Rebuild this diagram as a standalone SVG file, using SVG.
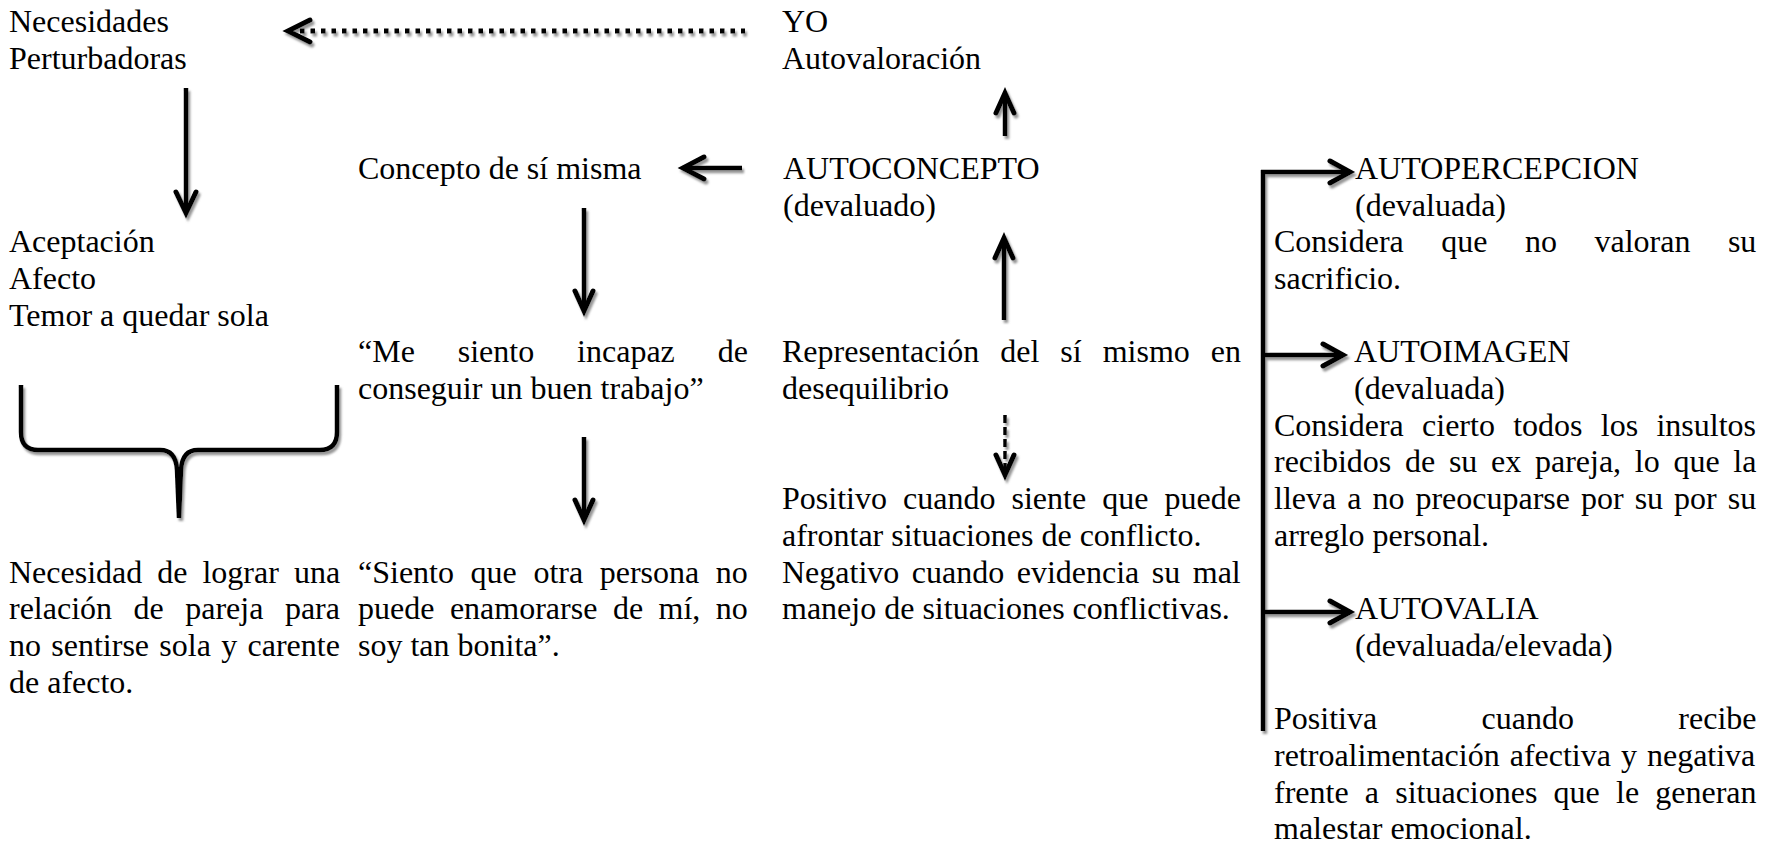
<svg xmlns="http://www.w3.org/2000/svg" width="1777" height="844" viewBox="0 0 1777 844">
<defs>
<style>
text{font-family:"Liberation Serif","Times New Roman",serif;font-size:32px;fill:#000}
.ln{fill:none;stroke:#000;stroke-width:4.5;stroke-linecap:butt}
.hd{fill:none;stroke:#000;stroke-width:5;stroke-linejoin:miter;stroke-linecap:round}
.dot{fill:none;stroke:#000;stroke-width:5;stroke-dasharray:4.5 6}
.dash{fill:none;stroke:#000;stroke-width:3.5;stroke-dasharray:8 4}
</style>
<filter id="sh" x="-20%" y="-20%" width="140%" height="140%">
<feDropShadow dx="2" dy="3" stdDeviation="1" flood-color="#8a8a8a" flood-opacity="0.9"/>
</filter>
</defs>
<rect width="1777" height="844" fill="#fff"/>

<g id="connectors" filter="url(#sh)">
<!-- YO -> Necesidades dotted -->
<path class="dot" d="M300,31 H745"/>
<path class="hd" d="M310,20 L288,31 L310,42"/>
<!-- Necesidades down -->
<path class="ln" d="M186,88 V212"/>
<path class="hd" d="M176,192 L186,213 L196,192"/>
<!-- AUTOCONCEPTO -> YO up -->
<path class="ln" d="M1005,136 V94"/>
<path class="hd" d="M996,113 L1005,93 L1014,113"/>
<!-- AUTOCONCEPTO -> Concepto left -->
<path class="ln" d="M742,168 H684"/>
<path class="hd" d="M704,157 L683,168 L704,179"/>
<!-- Concepto down -->
<path class="ln" d="M584,208 V310"/>
<path class="hd" d="M575,291 L584,311 L593,291"/>
<!-- Me siento down -->
<path class="ln" d="M584,437 V519"/>
<path class="hd" d="M575,500 L584,520 L593,500"/>
<!-- Representación up -->
<path class="ln" d="M1004,320 V239"/>
<path class="hd" d="M995,258 L1004,238 L1013,258"/>
<!-- Representación dashed down -->
<path class="dash" d="M1005,415 V470"/>
<path class="hd" d="M996,455 L1005,475 L1014,455"/>
<!-- brace -->
<path class="ln" d="M21,385 V432 Q21,450 38,450 H160 Q176,450 177,470 L179,518 M337,385 V432 Q337,450 320,450 H198 Q182,450 181,470 L179,518"/>
<!-- right bracket -->
<path class="ln" d="M1263,170 V731"/>
<path class="ln" d="M1261,172 H1348"/>
<path class="hd" d="M1330,161 L1350,172 L1330,183"/>
<path class="ln" d="M1263,355 H1341"/>
<path class="hd" d="M1323,344 L1343,355 L1323,366"/>
<path class="ln" d="M1263,612 H1348"/>
<path class="hd" d="M1330,601 L1350,612 L1330,623"/>
</g>

<g id="necesidades"><text x="9" y="32">Necesidades</text><text x="9" y="68.7">Perturbadoras</text></g>
<g id="yo"><text x="782" y="32">YO</text><text x="782" y="68.7">Autovaloración</text></g>
<g id="concepto"><text x="358" y="178.8">Concepto de sí misma</text></g>
<g id="autoconcepto"><text x="783" y="178.8">AUTOCONCEPTO</text><text x="783" y="215.5">(devaluado)</text></g>
<g id="aceptacion"><text x="9" y="252.2">Aceptación</text><text x="9" y="288.9">Afecto</text><text x="9" y="325.6">Temor a quedar sola</text></g>
<g id="mesiento"><text x="358" y="362.3" word-spacing="34.9">“Me siento incapaz de</text><text x="358" y="399">conseguir un buen trabajo”</text></g>
<g id="representacion"><text x="782" y="362.3" word-spacing="13">Representación del sí mismo en</text><text x="782" y="399">desequilibrio</text></g>
<g id="positivo"><text x="782" y="509.1" word-spacing="8.1">Positivo cuando siente que puede</text><text x="782" y="545.8">afrontar situaciones de conflicto.</text><text x="782" y="582.5" word-spacing="4.5">Negativo cuando evidencia su mal</text><text x="782" y="619.2">manejo de situaciones conflictivas.</text></g>
<g id="necesidad"><text x="9" y="582.5" word-spacing="7">Necesidad de lograr una</text><text x="9" y="619.2" word-spacing="13.5">relación de pareja para</text><text x="9" y="655.9" word-spacing="2.3">no sentirse sola y carente</text><text x="9" y="692.6">de afecto.</text></g>
<g id="siento"><text x="358" y="582.5" word-spacing="8.6">“Siento que otra persona no</text><text x="358" y="619.2" word-spacing="7.5">puede enamorarse de mí, no</text><text x="358" y="655.9">soy tan bonita”.</text></g>
<g id="autopercepcion"><text x="1355" y="178.8">AUTOPERCEPCION</text><text x="1355" y="215.5">(devaluada)</text><text x="1274" y="252.2" word-spacing="29.5">Considera que no valoran su</text><text x="1274" y="288.9">sacrificio.</text></g>
<g id="autoimagen"><text x="1354" y="362.3">AUTOIMAGEN</text><text x="1354" y="399">(devaluada)</text><text x="1274" y="435.7" word-spacing="10.3">Considera cierto todos los insultos</text><text x="1274" y="472.4" word-spacing="5.7">recibidos de su ex pareja, lo que la</text><text x="1274" y="509.1" word-spacing="3">lleva a no preocuparse por su por su</text><text x="1274" y="545.8">arreglo personal.</text></g>
<g id="autovalia"><text x="1355" y="619.2">AUTOVALIA</text><text x="1355" y="655.9">(devaluada/elevada)</text><text x="1274" y="729.3" word-spacing="96.4">Positiva cuando recibe</text><text x="1274" y="766" word-spacing="2">retroalimentación afectiva y negativa</text><text x="1274" y="802.7" word-spacing="8.2">frente a situaciones que le generan</text><text x="1274" y="839.4">malestar emocional.</text></g>
</svg>
